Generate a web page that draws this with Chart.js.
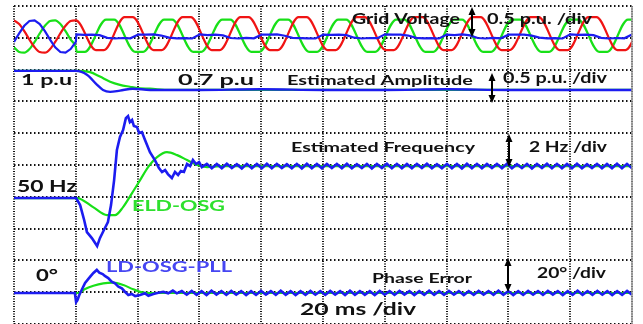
<!DOCTYPE html>
<html lang="en">
<head>
    <meta charset="UTF-8">
    <title>LD-OSG-PLL vs ELD-OSG</title>
    <style>
        html, body { margin: 0; padding: 0; background: #fff; }
        #wrap { width: 643px; height: 324px; }
    </style>
</head>
<body>
<div id="wrap"><canvas id="myChart" width="643" height="324"></canvas></div>

<script src="https://cdn.jsdelivr.net/npm/chart.js@4.4.1/dist/chart.umd.min.js"></script>
<script>
    // time in ms, 20 ms/div, 10 div

    // grid voltage before the sag (one cycle, 30 deg steps), p.u.
    const preT  = [0, 1.67, 3.33, 5, 6.67, 8.33, 10, 11.67, 13.33, 15, 16.67, 18.33, 20];
    const vaPre = [0.98, 0.76, 0.33, -0.19, -0.65, -0.94, -0.98, -0.76, -0.33, 0.19, 0.65, 0.94, 0.98];
    const vbPre = [-0.33, 0.19, 0.65, 0.94, 0.98, 0.76, 0.33, -0.19, -0.65, -0.94, -0.98, -0.76, -0.33];
    const vcPre = [-0.65, -0.94, -0.98, -0.76, -0.33, 0.19, 0.65, 0.94, 0.98, 0.76, 0.33, -0.19, -0.65];

    // after the sag: red / green peaks and troughs (ms) and their levels
    const vaPeakT   = [37.1, 55.9, 74.6, 93.4, 112.2, 130.9, 149.7, 168.5, 187.2, 205.9];
    const vaTroughT = [27.8, 46.5, 65.3, 84.1, 102.8, 121.6, 140.3, 159.1, 177.9, 196.6];
    const vaHi = 1.18, vaLo = -0.82;
    const vcPeakT   = [31.1, 49.9, 68.7, 87.4, 106.2, 125.0, 143.7, 162.5, 181.3, 200.0];
    const vcTroughT = [21.6, 40.5, 59.3, 78.1, 96.8, 115.6, 134.4, 153.1, 171.9, 190.7];
    const vcHi = 1.03, vcLo = -0.93;

    // blue phase after the sag, 20.2 .. 200 ms evenly
    const vbPost = [
        0.13, 0.10, 0.12, 0.08, -0.08, -0.12, -0.09, -0.11,
        0.12, 0.11, 0.13, 0.06, -0.07, -0.11, -0.10, -0.12,
        0.13, 0.09, 0.12, 0.07, -0.09, -0.12, -0.08, -0.11,
        0.11, 0.12, 0.13, 0.05, -0.08, -0.10, -0.11, -0.12,
        0.12, 0.10, 0.12, 0.08, -0.07, -0.12, -0.09, -0.10,
        0.13, 0.11, 0.12, 0.06, -0.08, -0.11, -0.10, -0.12,
        0.12, 0.09, 0.13, 0.07, -0.09, -0.12, -0.08, -0.11,
        0.11, 0.12, 0.12, 0.05, -0.07, -0.11, -0.10, -0.12,
        0.13, 0.10, 0.12, 0.08, -0.08, -0.12, -0.09, -0.11,
        0.12
    ];

    // estimated amplitude, p.u.
    const ampT_ld = [0, 20.1, 23.6, 26.9, 28.8, 31.1, 34.3, 38.5, 44.0, 60, 80, 100, 120, 140, 160, 180, 200];
    const amp_ld  = [1.0, 1.0, 0.94, 0.78, 0.70, 0.67, 0.69, 0.72, 0.70, 0.70, 0.71, 0.70, 0.70, 0.71, 0.70, 0.70, 0.70];
    const ampT_eld = [0, 20.1, 24.6, 27.8, 31.1, 34.3, 37.5, 39.8, 44.0, 50.5, 200];
    const amp_eld  = [1.0, 1.0, 0.98, 0.91, 0.83, 0.78, 0.75, 0.73, 0.72, 0.70, 0.70];

    // estimated frequency, Hz
    const freqT_ld = [0, 20.1, 21.4, 22.7, 23.6, 25.2, 26.9, 27.8, 29.1, 30.4,
        31.4, 32.4, 33.3, 34.3, 35.3, 36.2, 36.9, 37.5, 38.2, 38.8,
        39.8, 40.5, 41.4, 42.4, 44.0, 45.6, 46.9, 47.9, 48.9, 49.8,
        51.1, 52.1, 53.1, 54.0, 55.0, 56.0, 57.0, 57.9, 58.9, 59.9, 60.8];
    const freq_ld = [50, 50, 49.56, 48.62, 47.86, 47.48, 46.98, 47.48, 47.99, 48.49,
        49.56, 51.13, 53.02, 53.84, 54.28, 55.03, 55.16, 54.78, 54.91, 54.53,
        54.47, 54.09, 54.15, 53.65, 52.89, 52.39, 51.89, 51.64, 51.76, 51.51,
        51.26, 51.64, 51.45, 51.70, 51.64, 52.14, 52.01, 52.39, 52.14, 52.26, 51.95];
    // ripple after settling, 62.4 .. 200 ms evenly
    const freqTail_ld = [
        52.15, 51.87, 52.14, 51.88, 52.16, 51.89, 52.13, 51.86, 52.15, 51.88,
        52.14, 51.87, 52.16, 51.88, 52.15, 51.89, 52.13, 51.87, 52.15, 51.86,
        52.16, 51.88, 52.14, 51.87, 52.15, 51.89, 52.14, 51.88, 52.16, 51.87,
        52.13, 51.88, 52.15, 51.86, 52.14, 51.89, 52.16, 51.87, 52.15, 51.88,
        52.14, 51.87, 52.15, 51.89, 52.16, 51.88, 52.13, 51.87, 52.15, 51.88,
        52.14, 51.86, 52.16, 51.88, 52.15, 51.87, 52.14, 51.89, 52.15, 51.88,
        52.16, 51.87, 52.13, 51.88, 52.15, 51.86, 52.14, 51.89, 52.16, 51.87,
        52.15, 51.88, 52.14, 51.87, 52.16, 51.88, 52.13, 51.89, 52.15, 51.87,
        52.14, 51.88, 52.16, 51.87, 52.15, 51.88
    ];
    const freqT_eld = [0, 20.4, 25.6, 30.1, 32.7, 35.3, 38.2, 40.8, 43.4, 46.3, 49.5, 52.8, 56.0, 59.2, 62.5, 66.7, 200];
    const freq_eld  = [50, 50, 49.43, 48.93, 48.93, 49.43, 50.31, 51.13, 51.95, 52.58, 52.89, 52.70, 52.39, 52.08, 51.95, 52.01, 52.01];

    // phase error, deg
    const phT_ld = [0, 19.7, 20.1, 20.5, 21.1, 21.9, 23.0, 24.6, 25.7, 26.8,
        27.6, 28.7, 29.4, 30.5, 31.6, 32.7, 33.8, 34.9, 35.9, 37.0,
        38.1, 39.2, 40.8, 42.4, 43.5, 45.1, 46.7, 48.3, 49.9, 51.4, 52.7];
    const ph_ld = [0, 0, -5.7, -4.6, -1.4, 1.9, 6.3, 10.1, 12.6, 14.5,
        12.8, 11.9, 10.7, 9.4, 7.1, 6.1, 3.9, 2.9, 0.8, -1.3,
        -0.6, -1.9, -1.3, -0.2, -1.7, -0.6, 0.2, 0.8, -0.2, 1.5, -0.2];
    // ripple, 54.3 .. 200 ms evenly
    const phTail_ld = [
        1.2, -1.1, 1.3, -1.2, 1.1, -1.3, 1.4, -1.0, 1.2, -1.2,
        1.3, -1.1, 1.2, -1.3, 1.1, -1.2, 1.3, -1.0, 1.2, -1.2,
        1.4, -1.1, 1.2, -1.3, 1.1, -1.2, 1.3, -1.1, 1.2, -1.2,
        1.3, -1.0, 1.2, -1.3, 1.4, -1.1, 1.2, -1.2, 1.1, -1.3,
        1.3, -1.1, 1.2, -1.2, 1.3, -1.0, 1.2, -1.3, 1.1, -1.2,
        1.4, -1.1, 1.2, -1.2, 1.3, -1.1, 1.2, -1.3, 1.1, -1.2,
        1.3, -1.0, 1.2, -1.2, 1.4, -1.1, 1.2, -1.3, 1.1, -1.2,
        1.3, -1.1, 1.2, -1.2, 1.3, -1.0, 1.2, -1.3, 1.1, -1.2,
        1.4, -1.1, 1.2, -1.2, 1.3, -1.1, 1.2, -1.3, 1.1, -1.2,
        1.3, -1.1
    ];
    const phT_eld = [0, 20.8, 23.0, 25.7, 28.9, 32.1, 35.4, 38.6, 41.9, 44.0, 200];
    const ph_eld  = [0, 0, 2.5, 4.6, 6.1, 6.5, 5.0, 2.3, 0.2, 0, 0];

    const RED = '#f01414', GREEN = '#18e018', BLUE = '#1c1cf0';

    function pts(t, v) {
        return t.map((x, i) => ({x: x, y: v[i]}));
    }
    function spread(v, t0, t1) {
        return v.map((y, i) => ({x: t0 + i * (t1 - t0) / (v.length - 1), y: y}));
    }
    // flat tops of the clipped waves after the sag
    function trapez(preV, peakT, troughT, hi, lo) {
        const out = pts(preT, preV);
        const c = peakT.map(t => [t, hi]).concat(troughT.map(t => [t, lo]));
        c.sort((a, b) => a[0] - b[0]);
        c.forEach(p => {
            out.push({x: p[0] - 1.3, y: p[1]});
            out.push({x: p[0] + 1.3, y: p[1]});
        });
        return out;
    }

    function line(data, color, axis, width, smooth) {
        return {
            data: data,
            borderColor: color,
            borderWidth: width,
            yAxisID: axis,
            pointRadius: 0,
            fill: false,
            cubicInterpolationMode: smooth ? 'monotone' : 'default',
            tension: 0
        };
    }

    const datasets = [
        line(pts(freqT_ld, freq_ld).concat(spread(freqTail_ld, 62.4, 200)), BLUE, 'yF', 2.6, false),
        line(pts(phT_ld, ph_ld).concat(spread(phTail_ld, 54.3, 200)), BLUE, 'yP', 2.6, false),
        line(pts(ampT_ld, amp_ld), BLUE, 'yA', 2.4, true),
        line(pts(preT, vbPre).concat(spread(vbPost, 20.2, 200)), BLUE, 'yV', 2.2, false),
        line(trapez(vaPre, vaPeakT, vaTroughT, vaHi, vaLo), RED, 'yV', 2.2, true),
        line(trapez(vcPre, vcPeakT, vcTroughT, vcHi, vcLo), GREEN, 'yV', 2.2, true),
        line(pts(freqT_eld, freq_eld), GREEN, 'yF', 2.2, true),
        line(pts(phT_eld, ph_eld), GREEN, 'yP', 2.2, true),
        line(pts(ampT_eld, amp_eld), GREEN, 'yA', 2.2, true)
    ];

    const labels = [
        // text, x, baseline, size, width, colour
        ['Grid Voltage', 352, 24, 14.5, 108, '#111'],
        ['0.5 p.u. /div', 487, 24, 14.5, 105, '#111'],
        ['1 p.u', 21, 85, 16, 51, '#111'],
        ['0.7 p.u', 178, 85, 16, 76, '#111'],
        ['Estimated Amplitude', 287, 85, 13.5, 186, '#111'],
        ['0.5 p.u. /div', 503, 83, 14.5, 104, '#111'],
        ['Estimated Frequency', 291, 152, 13.5, 184, '#111'],
        ['2 Hz /div', 529, 152, 14.5, 78, '#111'],
        ['50 Hz', 17, 192, 17, 60, '#111'],
        ['ELD-OSG', 132, 211, 15.5, 93, '#2ee02e'],
        ['LD-OSG-PLL', 106, 272, 15.5, 126, '#4646f2'],
        ['0°', 36, 281, 17, 22, '#111'],
        ['Phase Error', 372, 283, 13.5, 100, '#111'],
        ['20° /div', 537, 278, 14.5, 69, '#111'],
        ['20 ms /div', 300, 315, 17, 116, '#111']
    ];
    const arrows = [[472, 7, 37], [492, 73, 103], [509, 134, 167], [508, 258, 292]];

    const decor = {
        id: 'decor',
        afterDatasetsDraw(chart) {
            const ctx = chart.ctx;
            const a = chart.chartArea;
            ctx.save();
            // solid frame on the right
            ctx.strokeStyle = '#9a9a9a';
            ctx.lineWidth = 1.5;
            ctx.beginPath();
            ctx.moveTo(a.right, a.top);
            ctx.lineTo(a.right, a.bottom);
            ctx.stroke();

            labels.forEach(l => {
                ctx.save();
                ctx.font = 'bold ' + l[3] + 'px Lato, "Open Sans", sans-serif';
                ctx.fillStyle = l[5];
                const w = ctx.measureText(l[0]).width;
                ctx.translate(l[1], l[2]);
                ctx.scale(l[4] / w, 1);
                ctx.fillText(l[0], 0, 0);
                ctx.restore();
            });

            ctx.strokeStyle = '#000';
            ctx.fillStyle = '#000';
            ctx.lineWidth = 2;
            arrows.forEach(r => {
                const x = r[0], y1 = r[1], y2 = r[2];
                ctx.beginPath();
                ctx.moveTo(x, y1 + 6);
                ctx.lineTo(x, y2 - 6);
                ctx.stroke();
                ctx.beginPath();
                ctx.moveTo(x, y1);
                ctx.lineTo(x - 3.5, y1 + 8);
                ctx.lineTo(x + 3.5, y1 + 8);
                ctx.closePath();
                ctx.fill();
                ctx.beginPath();
                ctx.moveTo(x, y2);
                ctx.lineTo(x - 3.5, y2 - 8);
                ctx.lineTo(x + 3.5, y2 - 8);
                ctx.closePath();
                ctx.fill();
            });
            ctx.restore();
        }
    };

    const hidden = (min, max) => ({type: 'linear', display: false, min: min, max: max});

    new Chart(document.getElementById('myChart').getContext('2d'), {
        type: 'line',
        data: {datasets: datasets},
        options: {
            responsive: false,
            animation: false,
            devicePixelRatio: 1,
            layout: {padding: {left: 14, right: 11, top: 6, bottom: 0}},
            plugins: {legend: {display: false}, tooltip: {enabled: false}},
            scales: {
                x: {
                    type: 'linear', min: 0, max: 200,
                    ticks: {display: false, stepSize: 20},
                    grid: {color: '#111', lineWidth: 2, drawTicks: false},
                    border: {display: false, dash: [1, 1.5]}
                },
                y: {
                    type: 'linear', min: 0, max: 10,
                    ticks: {display: false, stepSize: 1},
                    grid: {color: '#111', lineWidth: 2, drawTicks: false},
                    border: {display: false, dash: [1.5, 2.5]}
                },
                yV: hidden(-17.42, 1.85),
                yA: hidden(-2.98, 2.02),
                yF: hidden(42.08, 62.08),
                yP: hidden(-19.5, 180.5)
            }
        },
        plugins: [decor]
    });
</script>
</body>
</html>
